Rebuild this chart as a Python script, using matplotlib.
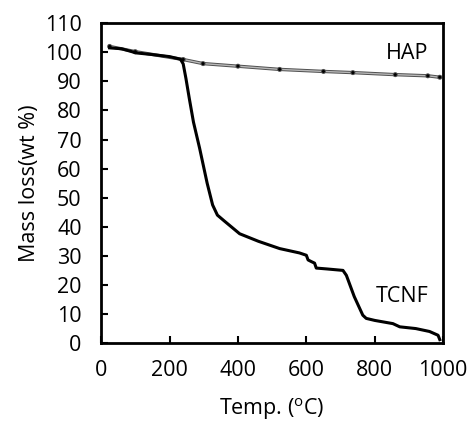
import matplotlib
matplotlib.use("Agg")
import matplotlib.pyplot as plt
import matplotlib.patheffects as pe

plt.rcParams['font.family'] = ['Open Sans', 'DejaVu Sans']
plt.rcParams['mathtext.fontset'] = 'custom'
plt.rcParams['mathtext.rm'] = 'Open Sans'
plt.rcParams['mathtext.it'] = 'Open Sans'

tcnf_temp = [25, 60, 90, 100, 150, 200, 232, 240, 248, 258, 270, 288, 310, 326, 340, 360, 405, 460,
             522, 580, 600, 605, 615, 624, 629, 660, 707, 717, 740, 765, 775, 800, 853,
             873, 920, 960, 985, 990]
tcnf_mass = [101.5, 101.2, 100.2, 99.8, 99.2, 98.5, 97.6, 96, 91, 84, 76, 67, 55, 47.5, 44, 42, 37.6, 35,
             32.5, 31, 30.2, 28.6, 28, 27.5, 25.8, 25.5, 25, 23.3, 16, 9.6, 8.5, 7.8, 6.7,
             5.6, 5, 4, 2.7, 1.2]

hap_temp = [25, 100, 240, 298, 400, 522, 650, 736, 860, 955, 990]
hap_mass = [102, 100.2, 97.5, 96.1, 95.2, 94.1, 93.4, 93.0, 92.3, 91.9, 91.4]

xticks = [0, 200, 400, 600, 800, 1000]
yticks = list(range(0, 111, 10))

fig = plt.figure(figsize=(4.68, 4.21), dpi=100)
ax = fig.add_axes([0.216, 0.185, 0.731, 0.760])

ax.plot(hap_temp, hap_mass, color='#b8b8b8', lw=1.0, marker='o', ms=1.2,
        mfc='black', mec='black',
        path_effects=[pe.Stroke(linewidth=2.4, foreground='#505050'), pe.Normal()], zorder=2)
ax.plot(tcnf_temp, tcnf_mass, color='black', lw=2.2, zorder=3, solid_joinstyle='round')

ax.text(893, 99.7, 'HAP', ha='center', va='center', fontsize=15.5)
ax.text(879, 16.1, 'TCNF', ha='center', va='center', fontsize=15.5)

ax.set_xlim(0, 1000)
ax.set_ylim(0, 110)
ax.set_xticks(xticks)
ax.set_yticks(yticks)
ax.tick_params(axis='both', direction='in', length=5, width=1.5, labelsize=15.5)
ax.tick_params(axis='x', pad=12)
ax.tick_params(axis='y', pad=14)
ax.tick_params(top=False, right=False)
for s in ax.spines.values():
    s.set_linewidth(2)

ax.set_xlabel('Temp. ($^{\\mathrm{o}}$C)', fontsize=15.5, labelpad=11)
ax.set_ylabel('Mass loss(wt %)', fontsize=15.5, labelpad=3)

fig.savefig('out.png', dpi=100)
